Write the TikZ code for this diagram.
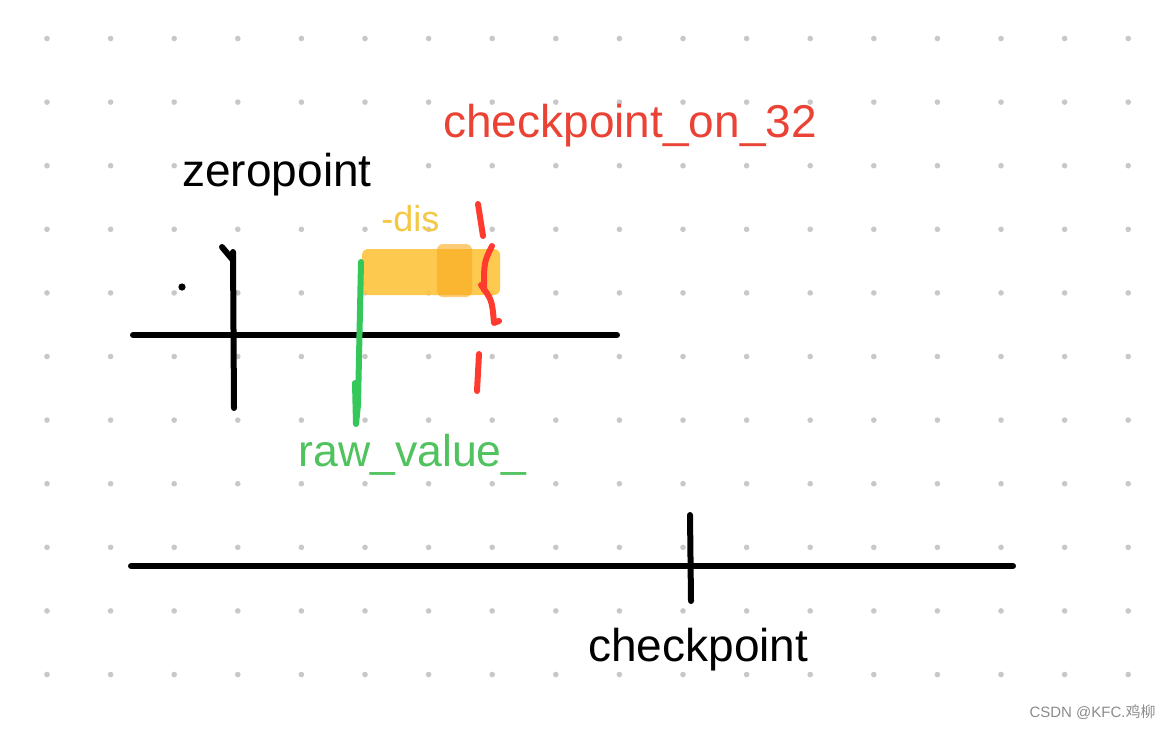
\documentclass[tikz,border=0pt]{standalone}
\usepackage{fontspec}
\setmainfont{Liberation Sans}
\newfontfamily\cjk{Noto Sans CJK SC}
\definecolor{dotgray}{RGB}{200,200,200}
\definecolor{inkgreen}{RGB}{52,199,89}
\definecolor{inkred}{RGB}{255,59,48}
\definecolor{textred}{RGB}{234,67,53}
\definecolor{textgreen}{RGB}{80,195,95}
\definecolor{inkyellow}{RGB}{253,196,60}
\definecolor{inkorange}{RGB}{251,170,30}
\definecolor{disyellow}{RGB}{245,200,66}
\definecolor{markgray}{RGB}{140,140,140}

\begin{document}
\begin{tikzpicture}
    [x=0.5pt,y=-0.5pt,every node/.style={inner sep=0pt},
     pen/.style={line width=3pt, line cap=round, line join=round},
     lbl/.style={anchor=base west, font=\fontsize{23}{27}\selectfont}]
  \useasboundingbox (0,0) rectangle (1170,730);
  \fill[white] (0,0) rectangle (1170,730);

  % dot grid
  \foreach \i in {0,...,17}
    \foreach \j in {0,...,10}
      \fill[dotgray] (47+63.6*\i,38.5+63.6*\j) circle[radius=1.4pt];

  % highlighted distance
  \fill[inkyellow, opacity=.9, rounded corners=3pt] (362,249) rectangle (500,295);
  \fill[inkorange, opacity=.6, rounded corners=3pt] (437,244) rectangle (472,297);

  % upper axis
  \coordinate (u1) at (133,335);
  \coordinate (u2) at (617,335);
  \coordinate (z1) at (233,252);
  \coordinate (z2) at (234,408);
  \coordinate (zh) at (222,247);
  \coordinate (zk) at (232,259);
  \coordinate (g1) at (361,262);
  \coordinate (g2) at (358,405);
  \coordinate (g3) at (356,424);
  \coordinate (gh) at (355,383);

  \foreach \from/\to in {u1/u2, z1/z2, zh/zk}
    \draw[pen] (\from) -- (\to);
  \fill (182,287) circle[radius=1.8pt];

  \draw[pen, inkgreen] (g1) -- (g2) -- (g3) -- (gh);

  % red dashed mark
  \coordinate (r1) at (478,204);
  \coordinate (r2) at (483,236);
  \coordinate (r3) at (492,246);
  \coordinate (r4) at (484,290);
  \coordinate (r5) at (481,285);
  \coordinate (r6) at (494,323);
  \coordinate (r7) at (499,321);
  \coordinate (r8) at (479,354);
  \coordinate (r9) at (477,391);
  \draw[pen, inkred] (r1) -- (r2);
  \draw[pen, inkred] (r3) .. controls (484,262) .. (r4);
  \draw[pen, inkred] (r5) .. controls (492,300) .. (r6) -- (r7);
  \draw[pen, inkred] (r8) -- (r9);

  % lower axis
  \coordinate (l1) at (131,566);
  \coordinate (l2) at (1013,566);
  \coordinate (c1) at (690,515);
  \coordinate (c2) at (691,601);
  \foreach \from/\to in {l1/l2, c1/c2}
    \draw[pen] (\from) -- (\to);

  % labels
  \node[lbl] (zerolbl) at (182,186) {zeropoint};
  \node[lbl, text=textred] (cp32lbl) at (443,137) {checkpoint\_on\_32};
  \node[lbl, text=textgreen, font=\fontsize{22.3}{27}\selectfont] (rawlbl) at (298,466) {raw\_value\_};
  \node[lbl] (cplbl) at (588,661) {checkpoint};
  \node[anchor=base west, text=disyellow, font=\fontsize{18}{21}\selectfont] (dislbl) at (381,231) {-dis};
  \node[anchor=base east, text=markgray, font=\fontsize{7.5}{9}\selectfont] (mark) at (1156,717) {CSDN @KFC.{\cjk 鸡柳}};
\end{tikzpicture}
\end{document}
